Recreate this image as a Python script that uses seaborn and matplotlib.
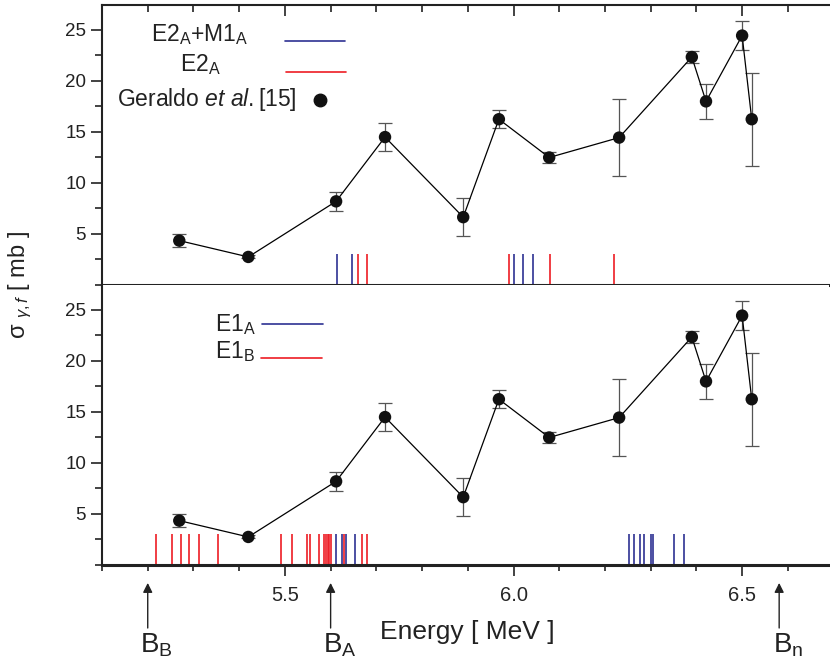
import matplotlib
matplotlib.use("Agg")
import matplotlib.pyplot as plt
import seaborn as sns
import pandas as pd
from matplotlib.ticker import MultipleLocator, FixedLocator
from matplotlib.lines import Line2D

# ---------------- data ----------------
energy = [5.269, 5.420, 5.612, 5.719, 5.890, 5.968, 6.078, 6.231, 6.390, 6.421, 6.500, 6.521]
sigma = [4.35, 2.75, 8.2, 14.5, 6.65, 16.25, 12.5, 14.45, 22.35, 18.0, 24.45, 16.25]
sigma_err = [0.65, 0.15, 0.95, 1.35, 1.85, 0.9, 0.5, 3.75, 0.6, 1.7, 1.4, 4.55]

e2m1_a = [5.6136, 5.647, 6.0004, 6.0208, 6.0426]
e2_a = [5.6595, 5.680, 5.9895, 6.0798, 6.220]
e1_a = [5.6115, 5.6246, 5.6333, 5.6536, 6.2531, 6.264, 6.2764, 6.2858,
        6.3011, 6.3048, 6.3507, 6.3733]
e1_b = [5.219, 5.2537, 5.2727, 5.2909, 5.3112, 5.3536, 5.4913, 5.5166,
        5.5481, 5.5559, 5.575, 5.5865, 5.590, 5.594, 5.5975, 5.6005,
        5.630, 5.6696, 5.679]
transition_height = 3.0

barrier_labels = [r"B$_\mathrm{B}$", r"B$_\mathrm{A}$", r"B$_\mathrm{n}$"]
barrier_energy = [5.2, 5.6, 6.581]

xticks = [5.5, 6.0, 6.5]
xtick_labels = ["5.5", "6.0", "6.5"]
yticks = [5, 10, 15, 20, 25]

BLUE = "#2e3192"
RED = "#ed1c24"
INK = "#222222"

# ---------------- style ----------------
sns.set_theme(style="ticks")
plt.rcParams["font.family"] = ["Liberation Sans", "DejaVu Sans"]
plt.rcParams["mathtext.fontset"] = "custom"
plt.rcParams["mathtext.rm"] = "Liberation Sans"
plt.rcParams["mathtext.it"] = "Liberation Sans:italic"
plt.rcParams["mathtext.bf"] = "Liberation Sans:bold"

df = pd.DataFrame({"energy": energy, "sigma": sigma, "err": sigma_err})

fig = plt.figure(figsize=(8.30, 6.64), dpi=100)
ax_top = fig.add_axes([0.1229, 0.5708, 0.8759, 0.4217])
ax_bot = fig.add_axes([0.1229, 0.1491, 0.8759, 0.4217], sharex=ax_top)

for ax, groups in [(ax_top, [(e2m1_a, BLUE), (e2_a, RED)]),
                   (ax_bot, [(e1_a, BLUE), (e1_b, RED)])]:
    for vals, col in groups:
        ax.vlines(vals, 0, transition_height, colors=col, lw=1.2, zorder=2)
    ax.errorbar(df["energy"], df["sigma"], yerr=df["err"], fmt="none",
                ecolor="#555555", elinewidth=0.9, capsize=5, capthick=0.9, zorder=3)
    sns.lineplot(data=df, x="energy", y="sigma", ax=ax, color="black",
                 lw=0.9, sort=False, zorder=4)
    sns.scatterplot(data=df, x="energy", y="sigma", ax=ax, color="#111111",
                    s=80, edgecolor="none", zorder=5)
    ax.set_xlim(5.1, 6.69)
    ax.set_ylim(0, 27.45)
    ax.set_xlabel("")
    ax.set_ylabel("")
    ax.yaxis.set_major_locator(FixedLocator(yticks))
    ax.yaxis.set_minor_locator(MultipleLocator(2.5))
    ax.xaxis.set_major_locator(FixedLocator(xticks))
    ax.xaxis.set_minor_locator(MultipleLocator(0.1))
    ax.tick_params(axis="y", which="major", direction="out", length=8, width=1.2,
                   labelsize=13.5, colors=INK)
    ax.tick_params(axis="y", which="minor", direction="out", length=5, width=1.2,
                   color=INK)
    ax.spines["right"].set_visible(False)
    ax.spines["left"].set_linewidth(1.5)
    ax.spines["bottom"].set_linewidth(2.2)
    ax.spines["top"].set_linewidth(1.5)
    for s in ax.spines.values():
        s.set_color(INK)

# top panel ticks
ax_top.tick_params(axis="x", which="major", bottom=True, top=True, direction="in",
                   length=8, width=1.2, labelbottom=False, color=INK)
ax_top.tick_params(axis="x", which="minor", bottom=True, top=True, direction="in",
                   length=5, width=1.2, color=INK)
ax_bot.spines["top"].set_visible(False)
ax_bot.tick_params(axis="x", which="major", bottom=True, top=False, direction="out",
                   length=8, width=1.2, labelsize=14.5, pad=7, color=INK)
ax_bot.tick_params(axis="x", which="minor", bottom=True, top=False, direction="out",
                   length=4.5, width=1.2, color=INK)
ax_bot.set_xticks(xticks)
ax_bot.set_xticklabels(xtick_labels, fontsize=14.5)
# ticks of the upper panel's lower edge point down into the lower panel
for t in ax_top.xaxis.get_major_ticks() + ax_top.xaxis.get_minor_ticks():
    t.tick1line.set_marker(3)

# ---------------- legends (drawn as in the original, centred text) ----------------
def legend_line(ax, x0, x1, y, color):
    ax.add_line(Line2D([x0, x1], [y, y], transform=ax.transAxes, color=color, lw=1.2))

fs_leg = 16.5
ax_top.text(0.135, 0.893, r"E2$_\mathrm{A}$+M1$_\mathrm{A}$", transform=ax_top.transAxes,
            ha="center", va="center", fontsize=fs_leg, color=INK)
legend_line(ax_top, 0.252, 0.334, 0.871, BLUE)
ax_top.text(0.135, 0.786, r"E2$_\mathrm{A}$", transform=ax_top.transAxes,
            ha="center", va="center", fontsize=fs_leg, color=INK)
legend_line(ax_top, 0.253, 0.335, 0.761, RED)
ax_top.text(0.144, 0.661, r"Geraldo $\mathit{et\ al.}$[15]", transform=ax_top.transAxes,
            ha="center", va="center", fontsize=fs_leg, color=INK)
ax_top.add_line(Line2D([0.300], [0.661], transform=ax_top.transAxes, marker="o",
                       markersize=9, color="#111111", lw=0))

ax_bot.text(0.183, 0.857, r"E1$_\mathrm{A}$", transform=ax_bot.transAxes,
            ha="center", va="center", fontsize=fs_leg, color=INK)
legend_line(ax_bot, 0.220, 0.304, 0.861, BLUE)
ax_bot.text(0.183, 0.761, r"E1$_\mathrm{B}$", transform=ax_bot.transAxes,
            ha="center", va="center", fontsize=fs_leg, color=INK)
legend_line(ax_bot, 0.219, 0.303, 0.739, RED)

# ---------------- barrier arrows ----------------
for lab, e in zip(barrier_labels, barrier_energy):
    ax_bot.annotate("", xy=(e, -0.064), xycoords=("data", "axes fraction"),
                    xytext=(e, -0.225), textcoords=("data", "axes fraction"),
                    arrowprops=dict(arrowstyle="-|>", color=INK, lw=1.0,
                                    mutation_scale=14, shrinkA=0, shrinkB=0),
                    annotation_clip=False)
    ax_bot.text(e + 0.02, -0.285, lab, transform=ax_bot.get_xaxis_transform(),
                ha="center", va="center", fontsize=20, color=INK)

# ---------------- axis labels ----------------
fig.text(0.563, 0.048, "Energy [ MeV ]", ha="center", va="center", fontsize=19,
         color=INK)
fig.text(0.024, 0.571, r"σ $_{\mathit{\gamma,f}}$ [ mb ]", rotation=90, ha="center",
         va="center", fontsize=17, color=INK)

fig.savefig("out.png", dpi=100)
